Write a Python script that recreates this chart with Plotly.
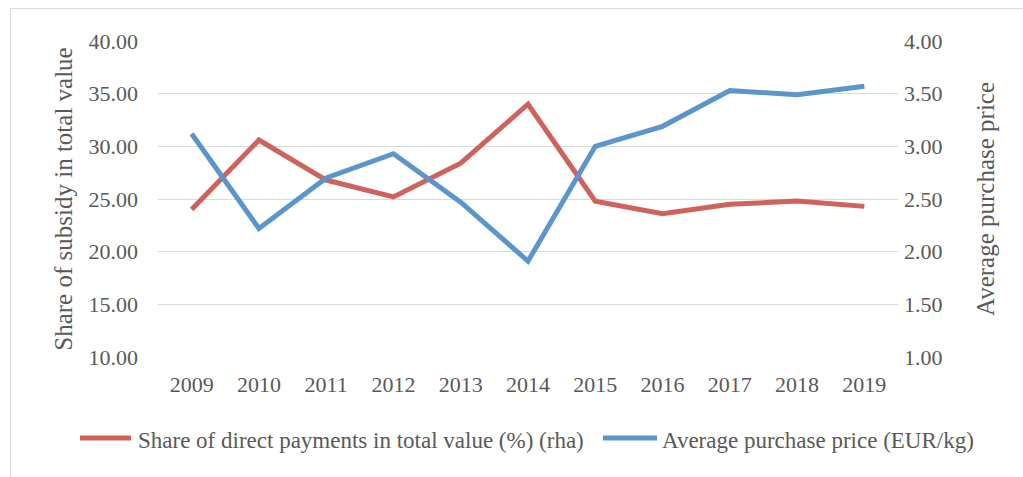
import plotly.graph_objects as go

years = ["2009", "2010", "2011", "2012", "2013", "2014", "2015", "2016", "2017", "2018", "2019"]
share_direct_payments = [24.0, 30.6, 26.8, 25.2, 28.4, 34.0, 24.8, 23.6, 24.5, 24.8, 24.3]
avg_purchase_price = [3.12, 2.22, 2.70, 2.93, 2.47, 1.91, 3.00, 3.19, 3.53, 3.49, 3.57]
series_names = ["Share of direct payments in total value (%) (rha)",
                "Average purchase price (EUR/kg)"]

red = "#CF625D"
blue = "#5B95CC"
gray = "#595959"
font_family = "Liberation Serif, Times New Roman, serif"

fig = go.Figure()
fig.add_trace(go.Scatter(
    x=years, y=share_direct_payments, mode="lines", name=series_names[0],
    line=dict(color=red, width=5), yaxis="y"))
fig.add_trace(go.Scatter(
    x=years, y=avg_purchase_price, mode="lines", name=series_names[1],
    line=dict(color=blue, width=5), yaxis="y2"))

W, H = 1023, 477
L, R, T, B = 158, 125, 41, 120
pw, ph = W - L - R, H - T - B

def px(x):
    return (x - L) / pw

def py(y):
    return (H - B - y) / ph

fig.update_layout(
    width=W, height=H,
    margin=dict(l=L, r=R, t=T, b=B, autoexpand=False),
    paper_bgcolor="white", plot_bgcolor="white",
    font=dict(family=font_family, color=gray, size=22),
    showlegend=False,
    xaxis=dict(type="category", range=[-0.5, 10.5], showgrid=False, showline=False,
               ticks="", tickfont=dict(size=22, color=gray), ticklabelstandoff=12,
               zeroline=False, automargin=False),
    yaxis=dict(range=[10, 40], dtick=5, tickformat=".2f", showgrid=True,
               gridcolor="#D9D9D9", gridwidth=1, zeroline=False, showline=False,
               ticks="", tickfont=dict(size=22, color=gray), ticklabelstandoff=19,
               automargin=False,
               title=dict(text="Share of subsidy in total value",
                          font=dict(size=25, color=gray), standoff=8)),
    yaxis2=dict(range=[1, 4], dtick=0.5, tickformat=".2f", overlaying="y", side="right",
                showgrid=False, zeroline=False, showline=False, ticks="",
                tickfont=dict(size=22, color=gray), ticklabelstandoff=5,
                automargin=False,
                title=dict(text="Average purchase price",
                           font=dict(size=25, color=gray), standoff=34)),
)

# outer chart border
fig.add_shape(type="rect", xref="paper", yref="paper",
              x0=px(10.5), x1=px(1040), y0=py(495), y1=py(8.5),
              line=dict(color="#D9D9D9", width=1), fillcolor="rgba(0,0,0,0)",
              layer="below")

# legend (drawn manually so it stays on one row)
legend_items = [(series_names[0], red, 80, 131, 136),
                (series_names[1], blue, 603, 657, 660)]
ly = 440
for name, color, lx0, lx1, tx in legend_items:
    fig.add_shape(type="line", xref="paper", yref="paper",
                  x0=px(lx0), x1=px(lx1), y0=py(ly - 2), y1=py(ly - 2),
                  line=dict(color=color, width=5))
    fig.add_annotation(text=name, xref="paper", yref="paper",
                       x=px(tx), y=py(ly), xanchor="left", yanchor="middle",
                       showarrow=False, font=dict(size=23, color=gray))

fig.write_html("out.html", config={"displayModeBar": False},
               post_script="document.body.style.margin='0';document.body.style.overflow='hidden';")
